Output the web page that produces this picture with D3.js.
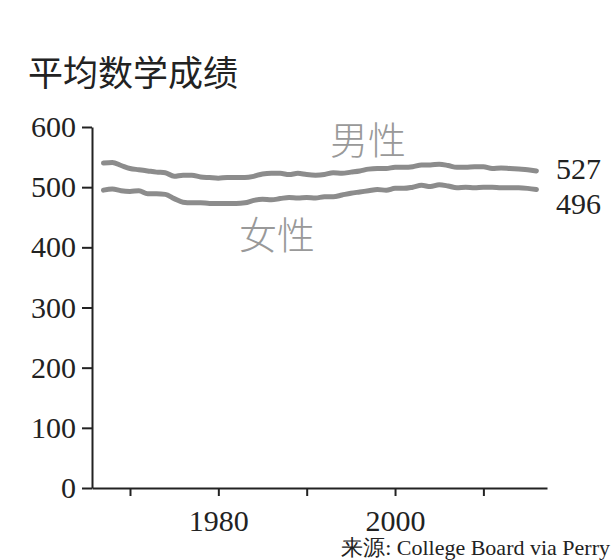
<!DOCTYPE html>
<meta charset="utf-8">
<style>
  body { margin: 0; background: #fff; }
  .tick text { font-family: "Liberation Serif", serif; }
</style>
<svg width="611" height="560"></svg>
<script src="https://cdn.jsdelivr.net/npm/d3@7"></script>
<script>

var years = d3.range(1967, 2017);

var male = [540, 541, 536, 531, 529, 527, 525, 524, 518, 520,
            520, 517, 516, 515, 516, 516, 516, 518, 522, 523,
            523, 521, 523, 521, 520, 521, 524, 523, 525, 527,
            530, 531, 531, 533, 533, 534, 537, 537, 538, 536,
            533, 533, 534, 534, 531, 532, 531, 530, 529, 527];

var female = [495, 497, 494, 493, 494, 489, 489, 488, 481, 475,
              474, 474, 473, 473, 473, 473, 474, 478, 480, 479,
              481, 483, 482, 483, 482, 484, 484, 487, 490, 492,
              494, 496, 495, 498, 498, 500, 503, 501, 504, 502,
              499, 500, 499, 500, 500, 499, 499, 499, 498, 496];

var yTicks = [0, 100, 200, 300, 400, 500, 600],
    xTicks = [1970, 1980, 1990, 2000, 2010],
    xLabels = [1980, 2000];

var svg = d3.select("svg");

var x = d3.scaleLinear().domain([1965.7, 2017.2]).range([92, 547]),
    y = d3.scaleLinear().domain([0, 600]).range([488, 127]);

// title
svg.append("text")
    .attr("x", 28)
    .attr("y", 86)
    .style("font-family", "Noto Sans CJK SC")
    .style("font-size", "35px")
    .style("fill", "#222")
    .text("平均数学成绩");

// y axis
var yAxis = svg.append("g")
    .attr("transform", "translate(92,0)")
    .call(d3.axisLeft(y).tickValues(yTicks).tickSize(10).tickSizeOuter(0).tickPadding(6));

// x axis
var xAxis = svg.append("g")
    .attr("transform", "translate(0,488)")
    .call(d3.axisBottom(x).tickValues(xTicks).tickSize(8).tickSizeOuter(0).tickPadding(14)
      .tickFormat(function(d) { return xLabels.indexOf(d) >= 0 ? d : ""; }));

[yAxis, xAxis].forEach(function(g) {
  g.select(".domain").attr("stroke", "#222").attr("stroke-width", 2);
  g.selectAll(".tick line").attr("stroke", "#222").attr("stroke-width", 2);
  g.selectAll(".tick text").style("font-size", "30px").attr("fill", "#222");
});

// lines
var line = d3.line()
    .x(function(d, i) { return x(years[i]); })
    .y(function(d) { return y(d); })
    .curve(d3.curveMonotoneX);

[male, female].forEach(function(s) {
  svg.append("path")
      .datum(s)
      .attr("fill", "none")
      .attr("stroke", "#8c8c8c")
      .attr("stroke-width", 5)
      .attr("stroke-linecap", "round")
      .attr("stroke-linejoin", "round")
      .attr("d", line);
});

// series labels
svg.append("text")
    .attr("x", 330).attr("y", 154)
    .style("font-family", "Noto Sans CJK SC")
    .style("font-weight", 300)
    .style("font-size", "38px")
    .style("fill", "#999")
    .text("男性");

svg.append("text")
    .attr("x", 239).attr("y", 249)
    .style("font-family", "Noto Sans CJK SC")
    .style("font-weight", 300)
    .style("font-size", "38px")
    .style("fill", "#999")
    .text("女性");

// end values
svg.append("text")
    .attr("x", 556).attr("y", 179)
    .style("font-family", "Liberation Serif")
    .style("font-size", "30px")
    .style("fill", "#222")
    .text(male[male.length - 1]);

svg.append("text")
    .attr("x", 556).attr("y", 214)
    .style("font-family", "Liberation Serif")
    .style("font-size", "30px")
    .style("fill", "#222")
    .text(female[female.length - 1]);

// source
svg.append("text")
    .attr("x", 610).attr("y", 555)
    .attr("text-anchor", "end")
    .style("font-family", "Liberation Serif")
    .style("font-size", "22px")
    .style("fill", "#222")
    .text("来源: College Board via Perry");

</script>
